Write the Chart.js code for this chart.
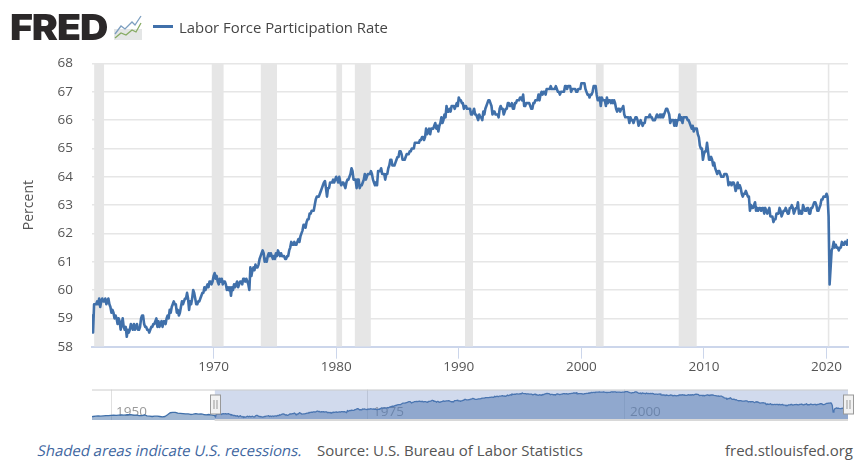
<!DOCTYPE html>
<html>
<head>
<meta charset="utf-8">
<title>Labor Force Participation Rate</title>
<script src="https://cdn.jsdelivr.net/npm/chart.js@4/dist/chart.umd.min.js"></script>
<style>
  html, body { margin: 0; padding: 0; background: #fff; }
  body { width: 867px; height: 470px; position: relative; overflow: hidden; font-family: "Open Sans", sans-serif; }
  canvas { position: absolute; left: 0; }
  #mainChart { top: 0; }
  #navChart { top: 380px; }
  .txt { position: absolute; white-space: nowrap; }
  #logoText { left: 10px; top: 5px; font-family: Inter, sans-serif; font-weight: 900; font-size: 36px; letter-spacing: -1px; color: #2b2829; transform-origin: left center; transform: scaleX(1.09); }
  #logoIcon { position: absolute; left: 114px; top: 14px; }
  #legendLine { position: absolute; left: 153px; top: 25px; width: 20px; height: 3px; background: #4070aa; }
  #legendText { left: 179px; top: 17px; font-size: 14.9px; color: #454545; }
  #noteText { left: 36px; top: 440px; font-size: 14.9px; color: #3e669f; transform-origin: left bottom; transform: skewX(-12deg); }
  #sourceText { left: 317px; top: 440px; font-size: 15px; color: #555; }
  #siteText { right: 14px; top: 440px; font-size: 15px; color: #555; }
</style>
</head>
<body>
<canvas id="mainChart" width="867" height="380"></canvas>
<canvas id="navChart" width="867" height="60"></canvas>

<div class="txt" id="logoText">FRED</div>
<svg id="logoIcon" width="28" height="26" viewBox="0 0 28 26">
  <rect x="0" y="15" width="28" height="11" fill="#e4e6e6"/>
  <polyline points="1,20 7,12 11,15 18,8 21,11 27,2" fill="none" stroke="#7d9fc0" stroke-width="1.3"/>
  <polyline points="1,24 7,19 12,21 18,16 22,18 27,9" fill="none" stroke="#86ab63" stroke-width="1.3"/>
</svg>
<div id="legendLine"></div>
<div class="txt" id="legendText">Labor Force Participation Rate</div>
<div class="txt" id="noteText">Shaded areas indicate U.S. recessions.</div>
<div class="txt" id="sourceText">Source: U.S. Bureau of Labor Statistics</div>
<div class="txt" id="siteText">fred.stlouisfed.org</div>

<script>
// Monthly values, one row per year from 1960 (ends Oct 2021)
const participationRate = [
  59.1,59.1,58.5,59.5,59.5,59.5,59.6,59.5,59.7,59.4,59.6,59.7,
  59.6,59.6,59.7,59.5,59.6,59.7,59.5,59.4,59.2,59.3,59.2,59.0,
  59.1,59.0,58.8,59.0,58.9,58.6,58.8,59.0,58.7,58.6,58.7,58.35,
  58.6,58.5,58.6,58.8,58.7,58.6,58.8,58.6,58.7,58.8,58.6,58.6,
  58.7,59.0,59.1,59.1,58.8,58.7,58.7,58.6,58.6,58.5,58.6,58.7,
  58.7,58.8,58.8,58.9,59.0,58.7,58.9,58.7,58.8,58.9,58.7,58.9,
  58.9,58.8,59.0,59.1,59.0,59.3,59.2,59.4,59.5,59.6,59.5,59.5,
  59.2,59.3,59.1,59.2,59.4,59.6,59.5,59.6,59.7,59.7,59.9,59.7,
  59.3,59.6,59.5,59.7,60.0,59.9,59.7,59.5,59.5,59.6,59.6,59.7,
  59.8,59.9,59.9,60.1,60.0,60.1,60.2,60.1,60.3,60.3,60.2,60.3,
  60.5,60.6,60.4,60.5,60.3,60.2,60.4,60.3,60.4,60.2,60.3,60.3,
  60.2,60.0,60.1,60.0,60.1,59.8,60.1,60.0,60.2,60.1,60.2,60.3,
  60.1,60.2,60.3,60.3,60.2,60.4,60.4,60.3,60.4,60.3,60.2,60.0,
  60.8,60.5,60.7,60.8,60.7,60.9,60.8,60.8,60.9,61.1,61.2,61.3,
  61.4,61.3,61.0,61.1,61.0,61.2,61.3,61.2,61.3,61.2,61.1,61.2,
  61.1,61.3,61.2,61.4,61.3,61.2,61.3,61.2,61.2,61.2,61.1,61.1,
  61.2,61.2,61.4,61.5,61.7,61.6,61.6,61.7,61.6,61.6,61.7,61.8,
  61.7,61.9,62.0,62.1,62.3,62.3,62.2,62.4,62.5,62.5,62.7,62.7,
  62.8,62.8,62.8,63.0,63.2,63.3,63.3,63.3,63.4,63.5,63.6,63.7,
  63.8,63.85,63.6,63.3,63.6,63.6,63.8,63.8,63.8,63.9,63.8,63.9,
  64.0,63.9,63.8,64.0,63.8,63.7,63.8,63.8,63.7,63.6,63.8,63.9,
  63.9,64.0,64.1,64.3,64.2,63.9,63.9,63.9,63.6,63.9,63.9,63.6,
  63.7,63.7,63.8,63.9,64.1,63.9,64.0,64.1,64.1,64.1,64.2,64.1,
  63.9,63.8,63.7,63.8,63.7,64.2,64.2,64.2,64.3,64.1,64.1,64.1,
  63.9,64.1,64.1,64.3,64.4,64.6,64.6,64.4,64.4,64.4,64.5,64.6,
  64.7,64.7,64.9,64.9,64.8,64.6,64.6,64.6,64.7,64.8,64.8,64.8,
  64.9,64.9,65.0,65.0,65.0,65.2,65.2,65.2,65.2,65.2,65.3,65.3,
  65.4,65.4,65.3,65.4,65.7,65.5,65.6,65.7,65.5,65.7,65.7,65.7,
  65.8,65.9,65.7,65.8,65.6,65.8,65.9,66.1,65.9,66.0,66.2,66.1,
  66.5,66.3,66.3,66.4,66.3,66.5,66.5,66.5,66.4,66.5,66.6,66.5,
  66.8,66.7,66.7,66.6,66.6,66.4,66.5,66.5,66.4,66.4,66.4,66.4,
  66.2,66.2,66.3,66.4,66.2,66.2,66.1,66.0,66.2,66.1,66.1,66.0,
  66.3,66.2,66.4,66.5,66.6,66.7,66.7,66.6,66.5,66.2,66.3,66.3,
  66.2,66.2,66.2,66.1,66.4,66.5,66.4,66.4,66.2,66.3,66.4,66.4,
  66.6,66.6,66.5,66.5,66.6,66.4,66.4,66.6,66.6,66.7,66.7,66.7,
  66.8,66.8,66.7,66.9,66.5,66.5,66.6,66.6,66.6,66.6,66.5,66.4,
  66.4,66.6,66.6,66.7,66.7,66.7,66.9,66.7,66.9,67.0,66.9,67.0,
  67.0,66.9,67.1,67.1,67.1,67.1,67.2,67.1,67.1,67.1,67.1,67.2,
  67.1,67.0,67.0,66.9,67.0,67.0,67.0,67.0,67.2,67.2,67.1,67.2,
  67.2,67.2,67.0,67.1,67.1,67.1,67.1,67.0,67.0,67.1,67.1,67.1,
  67.3,67.3,67.3,67.3,67.1,67.0,66.9,66.9,66.8,66.9,66.9,67.0,
  67.2,67.2,67.2,66.9,66.7,66.7,66.8,66.5,66.8,66.7,66.7,66.7,
  66.5,66.8,66.6,66.7,66.7,66.6,66.7,66.6,66.7,66.6,66.4,66.3,
  66.4,66.4,66.3,66.4,66.4,66.5,66.2,66.1,66.1,66.1,66.1,65.9,
  66.1,66.0,66.0,65.9,66.0,66.1,66.1,66.0,65.8,65.9,66.0,65.9,
  65.8,65.9,65.9,66.1,66.1,66.1,66.1,66.2,66.1,66.1,66.0,66.0,
  66.0,66.1,66.2,66.1,66.1,66.2,66.1,66.2,66.1,66.2,66.3,66.4,
  66.4,66.3,66.2,65.9,66.0,66.0,66.0,65.8,66.0,65.8,66.0,66.0,
  66.2,66.0,66.1,65.9,66.1,66.1,66.1,66.1,66.0,66.0,65.9,65.8,
  65.7,65.8,65.6,65.7,65.7,65.7,65.5,65.4,65.1,65.0,65.0,64.6,
  64.8,64.9,64.9,65.2,64.9,64.6,64.6,64.7,64.6,64.4,64.5,64.3,
  64.2,64.1,64.2,64.2,64.1,64.0,64.0,64.0,64.1,64.1,64.1,64.0,
  63.7,63.8,63.8,63.7,63.8,63.8,63.7,63.5,63.6,63.8,63.6,63.7,
  63.6,63.4,63.3,63.4,63.4,63.5,63.4,63.3,63.3,62.8,63.0,62.9,
  62.9,63.0,63.1,62.8,62.9,62.8,62.9,62.9,62.8,62.9,62.9,62.7,
  62.9,62.8,62.7,62.8,62.9,62.6,62.6,62.6,62.4,62.5,62.5,62.7,
  62.7,62.7,62.9,62.8,62.6,62.7,62.8,62.8,62.9,62.8,62.7,62.7,
  62.9,62.9,63.0,62.9,62.7,62.8,62.9,62.9,63.1,62.7,62.8,62.7,
  62.7,63.0,62.9,62.8,62.8,62.9,62.9,62.7,62.7,62.9,62.9,63.0,
  63.1,63.1,63.0,62.8,62.8,62.9,63.0,63.2,63.2,63.3,63.3,63.3,
  63.4,63.3,62.6,60.2,60.8,61.4,61.5,61.7,61.5,61.6,61.5,61.5,
  61.4,61.5,61.5,61.7,61.6,61.6,61.7,61.7,61.6,61.8
];

// Quarterly values for the part only the navigator shows, 1948-1959
const earlyRate = [
  58.6,58.7,58.8,58.9, 58.8,58.9,59.0,59.0, 59.1,59.2,59.1,59.2,
  59.3,59.2,59.3,59.3, 59.3,59.2,59.2,59.0, 59.0,59.3,58.9,58.8,
  58.7,58.8,58.8,58.7, 58.6,58.7,59.3,60.0, 60.1,60.1,59.9,59.8,
  59.7,59.6,59.6,59.4, 59.5,59.7,59.5,59.6, 59.4,59.3,59.4,59.3
];

const recessionStarts = [1960.25, 1969.83, 1973.83, 1980.0, 1981.5, 1990.5, 2001.17, 2007.92, 2020.08];
const recessionEnds = [1961.08, 1970.83, 1975.17, 1980.5, 1982.83, 1991.17, 2001.83, 2009.42, 2020.25];
const xTickYears = [1970, 1980, 1990, 2000, 2010, 2020];
const navTickYears = [1950, 1975, 2000];
const selectedRange = [1960.08, 2021.75];
const navRange = [1948.15, 2021.7];

const lineColor = '#4070aa';
const textColor = '#555555';
const labelFont = { family: 'Open Sans', size: 13.5 };

const ratePoints = participationRate.map((y, i) => ({ x: 1960 + i / 12, y: y }));
const earlyPoints = earlyRate.map((y, i) => ({ x: 1948 + i / 4, y: y }));

// one dataset, split into bands by null gaps
const recessionPoints = [];
recessionStarts.forEach((start, i) => {
    recessionPoints.push({ x: start, y: 68 }, { x: recessionEnds[i], y: 68 }, { x: recessionEnds[i], y: null });
});

function initMainChart() {
    return new Chart(document.getElementById('mainChart').getContext('2d'), {
        type: 'line',
        data: {
            datasets: [
                {
                    label: 'Labor Force Participation Rate',
                    data: ratePoints,
                    borderColor: lineColor,
                    borderWidth: 2.6,
                    borderJoinStyle: 'round',
                    pointRadius: 0,
                    tension: 0
                },
                {
                    label: 'Recessions',
                    data: recessionPoints,
                    borderWidth: 0,
                    pointRadius: 0,
                    backgroundColor: '#e6e6e6',
                    fill: 'start'
                }
            ]
        },
        options: {
            responsive: false,
            animation: false,
            layout: { padding: { top: 63.5, right: 19, left: 0, bottom: 0 } },
            plugins: { legend: { display: false }, tooltip: { enabled: false } },
            scales: {
                x: {
                    type: 'linear',
                    min: selectedRange[0],
                    max: selectedRange[1],
                    afterBuildTicks: axis => { axis.ticks = xTickYears.map(v => ({ value: v })); },
                    afterFit: axis => { axis.height = 33.3; },
                    border: { color: '#ccd6eb', width: 2 },
                    grid: { drawOnChartArea: false, tickLength: 12, tickColor: '#ccd6eb', tickWidth: 1 },
                    ticks: {
                        autoSkip: false,
                        maxRotation: 0,
                        padding: 0,
                        color: textColor,
                        font: labelFont,
                        callback: v => String(v)
                    }
                },
                y: {
                    min: 58,
                    max: 68,
                    afterFit: axis => { axis.width = 92; },
                    border: { display: false },
                    grid: { color: '#e6e6e6', lineWidth: 1.5, drawTicks: false },
                    title: { display: true, text: 'Percent', color: textColor, font: { family: 'Open Sans', size: 14 }, padding: { top: 21, bottom: 0 } },
                    ticks: { stepSize: 1, padding: 19, labelOffset: 0, color: textColor, font: labelFont }
                }
            }
        }
    });
}

// Outline and the two drag handles of the navigator
const navigatorFrame = {
    id: 'navigatorFrame',
    afterDatasetsDraw(chart) {
        const { ctx, chartArea, scales } = chart;
        const left = scales.x.getPixelForValue(selectedRange[0]);
        ctx.save();
        ctx.strokeStyle = '#cccccc';
        ctx.lineWidth = 1;
        ctx.beginPath();
        ctx.moveTo(chartArea.left, chartArea.top + 0.5);
        ctx.lineTo(chartArea.right, chartArea.top + 0.5);
        ctx.stroke();
        ctx.strokeStyle = '#d8d8d8';
        ctx.lineWidth = 2;
        ctx.beginPath();
        ctx.moveTo(left, chartArea.bottom);
        ctx.lineTo(chartArea.right, chartArea.bottom);
        ctx.stroke();
        [left, chartArea.right].forEach(x => {
            const hx = Math.round(x) - 5 + 0.5;
            const hy = chartArea.top + 5.5;
            ctx.fillStyle = '#f2f2f2';
            ctx.strokeStyle = '#999999';
            ctx.lineWidth = 1;
            ctx.fillRect(hx, hy, 10, 19);
            ctx.strokeRect(hx, hy, 10, 19);
            ctx.beginPath();
            ctx.moveTo(hx + 3.5, hy + 5);
            ctx.lineTo(hx + 3.5, hy + 14);
            ctx.moveTo(hx + 6.5, hy + 5);
            ctx.lineTo(hx + 6.5, hy + 14);
            ctx.stroke();
        });
        ctx.restore();
    }
};

function initNavChart() {
    return new Chart(document.getElementById('navChart').getContext('2d'), {
        type: 'line',
        data: {
            datasets: [
                {
                    label: 'Selected range',
                    data: selectedRange.map(x => ({ x: x, y: 68 })),
                    borderWidth: 0,
                    pointRadius: 0,
                    backgroundColor: 'rgba(102, 133, 194, 0.3)',
                    fill: 'start'
                },
                {
                    label: 'Navigator series',
                    data: earlyPoints.concat(ratePoints),
                    borderColor: lineColor,
                    borderWidth: 1.3,
                    borderJoinStyle: 'round',
                    pointRadius: 0,
                    backgroundColor: 'rgba(69, 114, 167, 0.5)',
                    fill: 'start'
                }
            ]
        },
        plugins: [navigatorFrame],
        options: {
            responsive: false,
            animation: false,
            layout: { padding: { top: 9.5, right: 19, left: 92, bottom: 0 } },
            plugins: { legend: { display: false }, tooltip: { enabled: false } },
            scales: {
                x: {
                    type: 'linear',
                    min: navRange[0],
                    max: navRange[1],
                    afterBuildTicks: axis => { axis.ticks = navTickYears.map(v => ({ value: v })); },
                    afterFit: axis => { axis.height = 20; },
                    border: { display: false },
                    grid: { color: '#e0e0e0', lineWidth: 1, drawTicks: false },
                    ticks: {
                        autoSkip: false,
                        maxRotation: 0,
                        mirror: true, // draws the labels inside the plot, unclipped
                        align: 'start',
                        labelOffset: 5,
                        padding: 0,
                        color: '#999999',
                        font: labelFont,
                        callback: v => String(v)
                    }
                },
                y: { display: false, min: 57.5, max: 68 }
            }
        }
    });
}

initMainChart();
initNavChart();
</script>
</body>
</html>
